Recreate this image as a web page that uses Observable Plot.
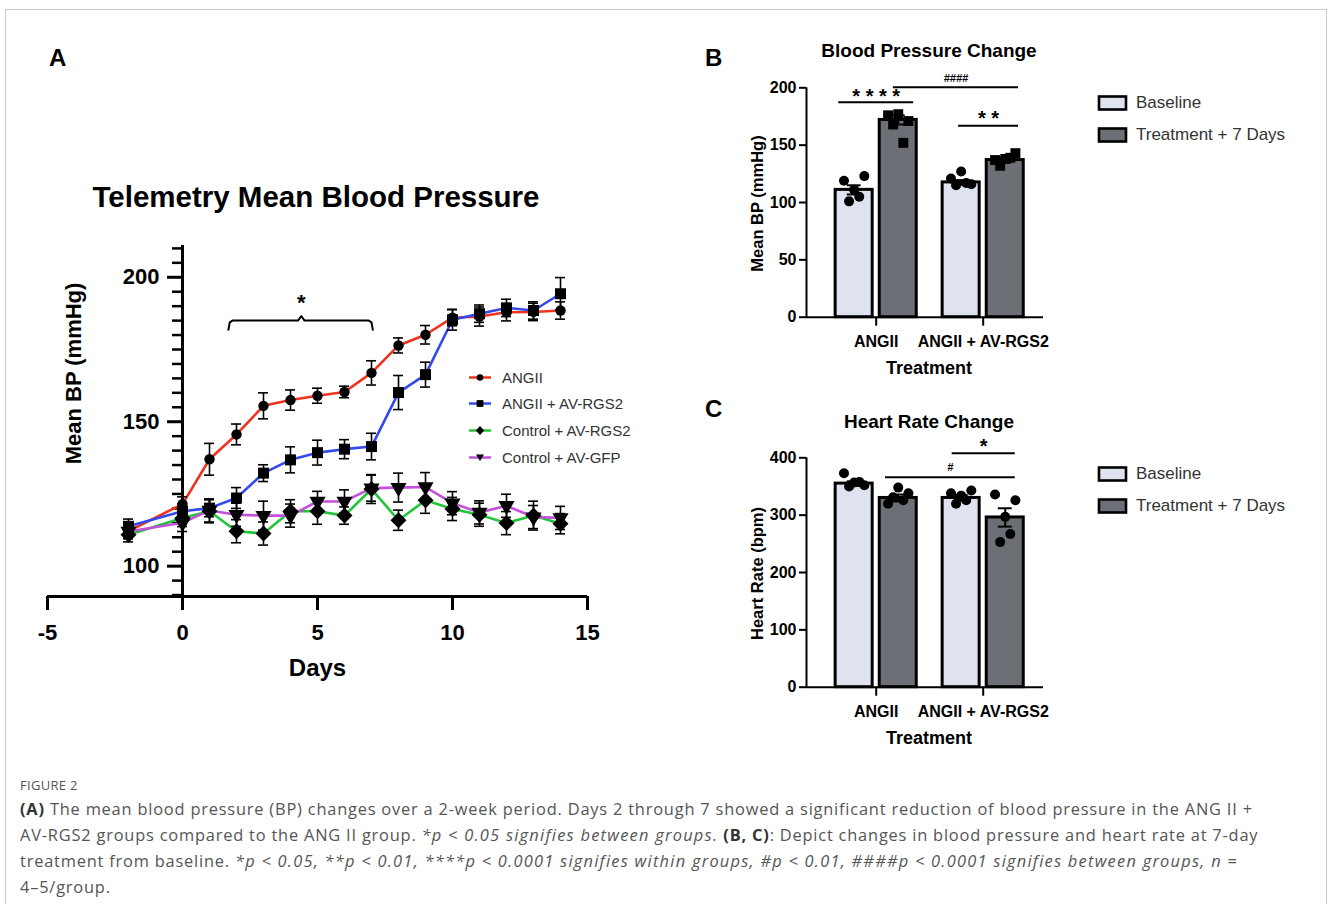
<!DOCTYPE html>
<html><head><meta charset="utf-8">
<script src="https://cdn.jsdelivr.net/npm/d3@7"></script>
<script src="https://cdn.jsdelivr.net/npm/@observablehq/plot@0.6"></script>
<style>
body{margin:0;background:#fff;}
#page{position:relative;width:1328px;height:904px;overflow:hidden;font-family:"Liberation Sans",Arial,sans-serif;color:#000;}
.border{position:absolute;left:5px;top:9px;width:1320px;height:920px;border:1px solid #c9c9c9;}
.plabel{position:absolute;font-weight:bold;font-size:24px;line-height:1;}
.title{position:absolute;font-weight:bold;white-space:nowrap;transform:translate(-50%,-50%);line-height:1;}
.panel{position:absolute;}
.leg{position:absolute;white-space:nowrap;color:#333;}
.leg .row{position:absolute;display:flex;align-items:center;transform:translateY(-50%);}
.caption{position:absolute;left:20px;top:774px;color:#555;font-family:"Open Sans",sans-serif;white-space:nowrap;}
.caption .fig{font-size:13px;letter-spacing:0.3px;line-height:22px;}
.caption .txt{font-size:16.4px;letter-spacing:0.8px;line-height:26px;}
.caption .txt i{letter-spacing:1.25px;}
.caption b{color:#333;}
</style></head><body>
<div id="page">
  <div class="border"></div>
  <div class="plabel" style="left:49px;top:46px;">A</div>
  <div class="plabel" style="left:705px;top:46px;">B</div>
  <div class="plabel" style="left:705px;top:397px;">C</div>
  <div class="title" style="left:316px;top:197px;font-size:29.5px;">Telemetry Mean Blood Pressure</div>
  <div class="title" style="left:929px;top:50px;font-size:19px;">Blood Pressure Change</div>
  <div class="title" style="left:929px;top:421px;font-size:19px;">Heart Rate Change</div>
  <div id="panelA" class="panel" style="left:0;top:230px;"></div>
  <div id="panelB" class="panel" style="left:700px;top:70px;"></div>
  <div id="panelC" class="panel" style="left:700px;top:440px;"></div>
  <div id="legA" class="leg" style="left:468px;top:0;font-size:15px;"></div>
  <div id="legB" class="leg" style="left:1097px;top:0;font-size:17px;"></div>
  <div id="legC" class="leg" style="left:1097px;top:0;font-size:17px;"></div>
  <div class="caption">
    <div class="fig">FIGURE 2</div>
    <div class="txt"><b>(A)</b> The mean blood pressure (BP) changes over a 2-week period. Days 2 through 7 showed a significant reduction of blood pressure in the ANG II +<br>AV-RGS2 groups compared to the ANG II group. <i>*p &lt; 0.05 signifies between groups.</i> <b>(B, C)</b>: Depict changes in blood pressure and heart rate at 7-day<br>treatment from baseline. <i>*p &lt; 0.05, **p &lt; 0.01, ****p &lt; 0.0001 signifies within groups, #p &lt; 0.01, ####p &lt; 0.0001 signifies between groups, n =</i><br>4–5/group.</div>
  </div>
</div>
<script>
// ---------------- Panel A data ----------------
const days = [-2, 0, 1, 2, 3, 4, 5, 6, 7, 8, 9, 10, 11, 12, 13, 14];
const seriesNames = ["ANGII", "ANGII + AV-RGS2", "Control + AV-RGS2", "Control + AV-GFP"];
const seriesColors = ["#f0321e", "#3448f0", "#22c43a", "#c34fdb"];
const seriesSymbols = ["circle", "square", "diamond2", "triangle"];
const angiiMean = [112.1, 121.5, 137.0, 145.6, 155.5, 157.5, 159.0, 160.3, 166.9, 176.4, 180.1, 186.0, 186.4, 187.9, 188.0, 188.5];
const angiiSem  = [2.5, 2.5, 5.5, 3.6, 4.5, 3.5, 2.6, 2.0, 4.2, 2.6, 3.2, 2.8, 3.3, 3.0, 3.0, 3.0];
const rgs2Mean  = [113.8, 119.0, 120.1, 123.6, 132.2, 136.8, 139.3, 140.5, 141.4, 160.1, 166.3, 185.3, 187.4, 189.4, 188.5, 194.3];
const rgs2Sem   = [2.5, 2.5, 3.0, 3.6, 2.9, 4.5, 4.3, 3.3, 4.6, 5.9, 4.3, 3.6, 3.0, 3.0, 3.0, 5.6];
const ctrlRgs2Mean = [110.9, 116.7, 119.0, 112.1, 111.3, 119.0, 119.0, 117.5, 126.7, 115.9, 122.8, 119.8, 117.8, 114.9, 117.5, 114.7];
const ctrlRgs2Sem  = [2.5, 3.0, 4.0, 4.0, 4.0, 4.0, 4.5, 3.0, 5.0, 3.5, 4.5, 4.0, 4.0, 4.0, 5.0, 3.5];
const gfpMean = [112.0, 115.0, 119.3, 117.8, 117.5, 117.5, 122.4, 122.4, 127.0, 127.2, 127.4, 121.8, 118.6, 120.9, 117.0, 116.7];
const gfpSem  = [2.5, 3.0, 4.0, 4.0, 5.0, 4.0, 3.5, 4.0, 4.5, 5.0, 5.0, 4.0, 4.0, 4.0, 4.0, 4.0];
const xTicksA = [-5, 0, 5, 10, 15];
const yTicksA = [100, 150, 200];
const bracketA = {x1: 1.7, x2: 7.05, xm: 4.4, y: 185, drop: 3.2, label: "*"};

// ---------------- Panel B / C data ----------------
const groups = ["ANGII", "ANGII + AV-RGS2"];
const conditions = ["Baseline", "Treatment + 7 Days"];
const conditionFills = ["#dfe3ef", "#6c6f76"];
const bpBaselineMean = [111, 117.5];
const bpBaselineSem = [4, 2];
const bpTreatMean = [172, 137];
const bpTreatSem = [4, 2];
const bpBaselinePts = [[119, 111, 123, 101, 105], [121, 127, 116, 115, 117]];
const bpTreatPts = [[176, 177, 171, 168, 152], [137, 138, 143, 132, 139]];
const hrBaselineMean = [355, 330];
const hrBaselineSem = [4, 5];
const hrTreatMean = [330, 296];
const hrTreatSem = [6, 16];
const hrBaselinePts = [[373, 357, 352, 350, 358], [338, 334, 343, 320, 326]];
const hrTreatPts = [[320, 348, 338, 331, 326], [336, 297, 326, 253, 267]];
const bpTicks = [0, 50, 100, 150, 200];
const hrTicks = [0, 100, 200, 300, 400];
// significance annotations: x in group units (1 = first group centre)
const bpSig = [
  {x1: 0.65, x2: 1.35, y: 187.5, ty: 192.5, label: "* * * *", kind: "star"},
  {x1: 1.77, x2: 2.33, y: 167, ty: 173.5, label: "* *", kind: "star"},
  {x1: 1.16, x2: 2.33, y: 200.5, ty: 208.5, label: "####", kind: "hash"}
];
const hrSig = [
  {x1: 1.71, x2: 2.30, y: 408, ty: 419, label: "*", kind: "star"},
  {x1: 1.087, x2: 2.30, y: 366, ty: 383, label: "#", kind: "hash"}
];

const FONT = "Liberation Sans, Arial, Helvetica, sans-serif";

// ---------------- Panel A ----------------
(function () {
  const W = 660, H = 460, mL = 47, mR = 73, mT = 15, mB = 94;
  const xDom = [-5, 15], yDom = [89.5, 211];
  const means = [angiiMean, rgs2Mean, ctrlRgs2Mean, gfpMean];
  const sems = [angiiSem, rgs2Sem, ctrlRgs2Sem, gfpSem];
  const rows = seriesNames.flatMap((s, si) => days.map((d, i) => ({series: s, si, day: d, mean: means[si][i], sem: sems[si][i]})));
  const pxPerDay = (W - mL - mR) / (xDom[1] - xDom[0]);
  const cap = 5 / pxPerDay;
  const axisShift = (0 - xDom[0]) * pxPerDay;
  const minor = d3.range(90, 211, 5).filter(v => !yTicksA.includes(v));
  const b = bracketA;
  const bracketPts = [[b.x1, b.y - b.drop], [b.x1 + 0.05, b.y - 0.6], [b.x1 + 0.15, b.y], [b.xm - 0.12, b.y], [b.xm, b.y + 1.6], [b.xm + 0.12, b.y], [b.x2 - 0.15, b.y], [b.x2 - 0.05, b.y - 0.6], [b.x2, b.y - b.drop]];
  const sizes = [5.2, 6.2, 7.2, 6.0];
  const marks = [
    Plot.ruleY([yDom[0]], {strokeWidth: 3}),
    Plot.ruleX([0], {y1: yDom[0], y2: yDom[1], strokeWidth: 3}),
    Plot.axisX({ticks: xTicksA, tickFormat: d => String(d), tickSize: 14, tickPadding: 14, strokeWidth: 3, fontSize: 22, fontWeight: "bold", label: null}),
    Plot.axisY({ticks: yTicksA, tickSize: 15, tickPadding: 8, strokeWidth: 3, fontSize: 22, fontWeight: "bold", label: null, dx: axisShift}),
    Plot.axisY({ticks: minor, tickSize: 10, strokeWidth: 2.5, tickFormat: () => "", label: null, dx: axisShift}),
    Plot.line(rows, {x: "day", y: "mean", z: "series", stroke: "series", strokeWidth: 2.6}),
    Plot.ruleX(rows, {x: "day", y1: d => d.mean - d.sem, y2: d => d.mean + d.sem, strokeWidth: 1.6}),
    Plot.ruleY(rows, {y: d => d.mean + d.sem, x1: d => d.day - cap, x2: d => d.day + cap, strokeWidth: 1.6}),
    Plot.ruleY(rows, {y: d => d.mean - d.sem, x1: d => d.day - cap, x2: d => d.day + cap, strokeWidth: 1.6}),
    ...seriesNames.map((s, si) => Plot.dot(rows.filter(d => d.si === si), {x: "day", y: "mean", symbol: seriesSymbols[si], r: sizes[si], fill: "black", stroke: "none", rotate: si === 3 ? 180 : 0})),
    Plot.line(bracketPts, {x: d => d[0], y: d => d[1], strokeWidth: 2, curve: "linear"}),
    Plot.text([b.label], {x: b.xm, y: b.y + 6.2, fontSize: 22, fontWeight: "bold"}),
    Plot.text(["Days"], {frameAnchor: "bottom", lineAnchor: "middle", dy: 72, fontSize: 24, fontWeight: "bold"}),
    Plot.text(["Mean BP (mmHg)"], {frameAnchor: "left", textAnchor: "middle", lineAnchor: "middle", rotate: -90, dx: 26, dy: -47.5, fontSize: 22, fontWeight: "bold"})
  ];
  const svg = Plot.plot({
    width: W, height: H, marginLeft: mL, marginRight: mR, marginTop: mT, marginBottom: mB,
    x: {domain: xDom}, y: {domain: yDom},
    color: {domain: seriesNames, range: seriesColors},
    style: {fontFamily: FONT, background: "transparent", overflow: "visible", color: "black"},
    marks
  });
  document.getElementById("panelA").append(svg);

  // legend (HTML)
  const leg = document.getElementById("legA");
  const rowsY = [377, 403, 430, 457];
  const symPaths = {
    circle: '<circle cx="12" cy="7" r="3.3"/>',
    square: '<rect x="8.6" y="3.6" width="6.8" height="6.8"/>',
    diamond2: '<path d="M12 2.4 L16.2 7 L12 11.6 L7.8 7 Z"/>',
    triangle: '<path d="M8 4 L16 4 L12 10.5 Z"/>'
  };
  seriesNames.forEach((s, i) => {
    const r = document.createElement("div");
    r.className = "row";
    r.style.top = rowsY[i] + "px";
    r.innerHTML = `<svg width="24" height="14" style="margin-right:10px"><line x1="1" x2="23" y1="7" y2="7" stroke="${seriesColors[i]}" stroke-width="2.6"/>${symPaths[seriesSymbols[i]]}</svg><span>${s}</span>`;
    leg.append(r);
  });
})();

// ---------------- Panels B and C ----------------
const barW = 0.346, halfGap = 0.033;
function barPanel(el, baseMean, baseSem, treatMean, treatSem, basePts, treatPts, yDom, ticks, yLabel, sig, treatSymbol) {
  const W = 360, H = 320, mL = 106, mR = 17, mT = 17.3, mB = 73.3;
  const xDom = [0.3486, 2.5636];
  const bars = [];
  groups.forEach((g, gi) => {
    [[baseMean, baseSem, basePts], [treatMean, treatSem, treatPts]].forEach(([m, s, p], ci) => {
      const x1 = gi + 1 + (ci === 0 ? -(halfGap + barW) : halfGap);
      bars.push({group: g, cond: conditions[ci], ci, x1, x2: x1 + barW, xc: x1 + barW / 2, mean: m[gi], sem: s[gi], pts: p[gi]});
    });
  });
  const pattern = [-1, 0, 1, -0.5, 0.5];
  const pts = bars.flatMap(b => b.pts.map((v, i) => ({x: b.xc + pattern[i] * 0.095, y: v, ci: b.ci})));
  const capW = 0.065;
  const marks = [
    Plot.rect(bars, {x1: "x1", x2: "x2", y1: 0, y2: "mean", fill: "cond", stroke: "black", strokeWidth: 3}),
    Plot.ruleX(bars, {x: "xc", y1: d => d.mean - d.sem, y2: d => d.mean + d.sem, strokeWidth: 2}),
    Plot.ruleY(bars, {y: d => d.mean + d.sem, x1: d => d.xc - capW, x2: d => d.xc + capW, strokeWidth: 2}),
    Plot.ruleY(bars, {y: d => d.mean - d.sem, x1: d => d.xc - capW, x2: d => d.xc + capW, strokeWidth: 2}),
    Plot.dot(pts.filter(d => d.ci === 0), {x: "x", y: "y", r: 5, fill: "black", stroke: "none"}),
    Plot.dot(pts.filter(d => d.ci === 1), {x: "x", y: "y", r: treatSymbol === "square" ? 5.6 : 5, symbol: treatSymbol, fill: "black", stroke: "none"}),
    Plot.ruleY([0], {strokeWidth: 2}),
    Plot.ruleX([xDom[0]], {y1: yDom[0], y2: yDom[1], strokeWidth: 2}),
    Plot.axisY({ticks, tickSize: 7, tickPadding: 3, strokeWidth: 2, fontSize: 16, fontWeight: "bold", label: null}),
    Plot.axisX({ticks: [1, 2], tickFormat: i => groups[i - 1], tickSize: 9, tickPadding: 9, strokeWidth: 2, fontSize: 16, fontWeight: "bold", label: null}),
    Plot.text(["Treatment"], {frameAnchor: "bottom", lineAnchor: "middle", dy: 51.3, dx: 4, fontSize: 18, fontWeight: "bold"}),
    Plot.text([yLabel], {frameAnchor: "left", textAnchor: "middle", lineAnchor: "middle", rotate: -90, dx: -49, dy: 1, fontSize: 16.5, fontWeight: "bold"}),
    Plot.ruleY(sig, {y: "y", x1: "x1", x2: "x2", strokeWidth: 2}),
    Plot.text(sig.filter(d => d.kind === "star"), {x: d => (d.x1 + d.x2) / 2, y: "ty", text: "label", fontSize: 20, fontWeight: "bold"}),
    Plot.text(sig.filter(d => d.kind === "hash"), {x: d => (d.x1 + d.x2) / 2, y: "ty", text: "label", fontSize: 11, fontStyle: "italic", fontWeight: "bold"})
  ];
  const svg = Plot.plot({
    width: W, height: H, marginLeft: mL, marginRight: mR, marginTop: mT, marginBottom: mB,
    x: {domain: xDom}, y: {domain: yDom},
    color: {domain: conditions, range: conditionFills},
    style: {fontFamily: FONT, background: "transparent", overflow: "visible", color: "black"},
    marks
  });
  document.getElementById(el).append(svg);
}
barPanel("panelB", bpBaselineMean, bpBaselineSem, bpTreatMean, bpTreatSem, bpBaselinePts, bpTreatPts, [0, 200], bpTicks, "Mean BP (mmHg)", bpSig, "square");
barPanel("panelC", hrBaselineMean, hrBaselineSem, hrTreatMean, hrTreatSem, hrBaselinePts, hrTreatPts, [0, 400], hrTicks, "Heart Rate (bpm)", hrSig, "circle");

function barLegend(el, ys) {
  const leg = document.getElementById(el);
  conditions.forEach((c, i) => {
    const r = document.createElement("div");
    r.className = "row";
    r.style.top = ys[i] + "px";
    r.innerHTML = `<svg width="32" height="18" style="margin-right:7px"><rect x="2" y="2.5" width="27" height="13" fill="${conditionFills[i]}" stroke="black" stroke-width="2.6"/></svg><span>${c}</span>`;
    leg.append(r);
  });
}
barLegend("legB", [103, 135]);
barLegend("legC", [474, 506]);
</script>
</body></html>
